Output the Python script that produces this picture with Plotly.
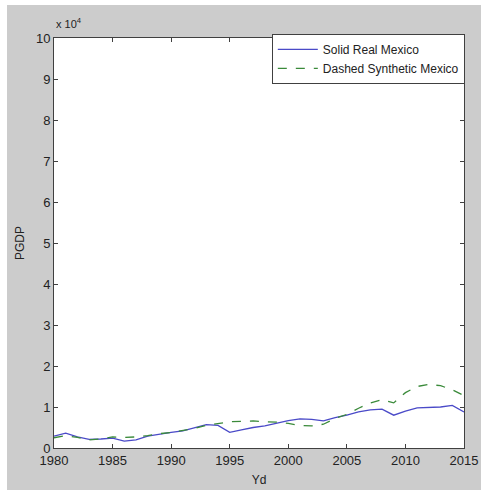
import plotly.graph_objects as go

years = list(range(1980, 2016))
real_mexico = [0.29, 0.36, 0.27, 0.21, 0.22, 0.24, 0.17, 0.20, 0.29, 0.34,
               0.38, 0.42, 0.50, 0.57, 0.55, 0.38, 0.44, 0.50, 0.54, 0.60,
               0.67, 0.71, 0.70, 0.66, 0.74, 0.80, 0.88, 0.93, 0.95, 0.80,
               0.90, 0.98, 0.99, 1.00, 1.04, 0.88]
synthetic_mexico = [0.25, 0.30, 0.26, 0.20, 0.22, 0.27, 0.26, 0.27, 0.30, 0.35,
                    0.38, 0.43, 0.48, 0.55, 0.60, 0.64, 0.65, 0.66, 0.64, 0.63,
                    0.60, 0.55, 0.54, 0.58, 0.72, 0.82, 0.97, 1.10, 1.18, 1.10,
                    1.35, 1.50, 1.55, 1.52, 1.42, 1.28]
real_mexico = [v * 1e4 for v in real_mexico]
synthetic_mexico = [v * 1e4 for v in synthetic_mexico]
x_ticks = [1980, 1985, 1990, 1995, 2000, 2005, 2010, 2015]
y_ticks = list(range(0, 11))

fig = go.Figure()
fig.add_trace(go.Scatter(x=years, y=real_mexico, mode="lines", name="Solid Real Mexico",
                         line=dict(color="#4a4ac8", width=1.3)))
fig.add_trace(go.Scatter(x=years, y=synthetic_mexico, mode="lines", name="Dashed Synthetic Mexico",
                         line=dict(color="#3a8a3a", width=1.3, dash="dash")))

W, H = 481, 493
L, R, T, B = 54, 464, 38, 448
pw, ph = R - L, B - T

def px_x(p):
    return (p - L) / pw

def px_y(p):
    return (B - p) / ph

axis_common = dict(showline=True, linecolor="#404040", linewidth=1, mirror="ticks",
                   ticks="inside", ticklen=4, tickcolor="#404040",
                   showgrid=False, zeroline=False, automargin=False,
                   tickfont=dict(family="Liberation Sans", size=13, color="#222222"))

white_strip = dict(type="rect", xref="paper", yref="paper", fillcolor="white",
                   line=dict(width=0), layer="above")

fig.update_layout(
    width=W, height=H,
    margin=dict(l=L, r=W - R, t=T, b=H - B, autoexpand=False),
    paper_bgcolor="#cccccc", plot_bgcolor="white",
    xaxis=dict(range=[1980, 2015], tickvals=x_ticks, **axis_common,
               title=dict(text="Yd", font=dict(family="Liberation Sans", size=12, color="#222222"), standoff=9)),
    yaxis=dict(range=[0, 1e5], tickvals=[v * 1e4 for v in y_ticks],
               ticktext=[str(v) for v in y_ticks], **axis_common,
               title=dict(text="PGDP", font=dict(family="Liberation Sans", size=12, color="#222222"), standoff=8)),
    legend=dict(x=1.002, y=1.01, xanchor="right", yanchor="top", bgcolor="white",
                bordercolor="#404040", borderwidth=1,
                font=dict(family="Liberation Sans", size=12, color="#222222"),
                tracegroupgap=0, itemwidth=40),
    showlegend=True,
    shapes=[
        dict(white_strip, x0=px_x(0), x1=px_x(7), y0=px_y(H), y1=px_y(0)),
        dict(white_strip, x0=px_x(0), x1=px_x(W), y0=px_y(5), y1=px_y(0)),
        dict(white_strip, x0=px_x(0), x1=px_x(W), y0=px_y(H), y1=px_y(490)),
    ],
    annotations=[dict(text="x 10<sup>4</sup>", xref="paper", yref="paper",
                      x=0, y=1.015, xanchor="left", yanchor="bottom", showarrow=False,
                      font=dict(family="Liberation Sans", size=11, color="#222222"))],
)

fig.write_html("out.html", config={"displayModeBar": False},
               post_script="document.body.style.margin='0';document.body.style.overflow='hidden';")
